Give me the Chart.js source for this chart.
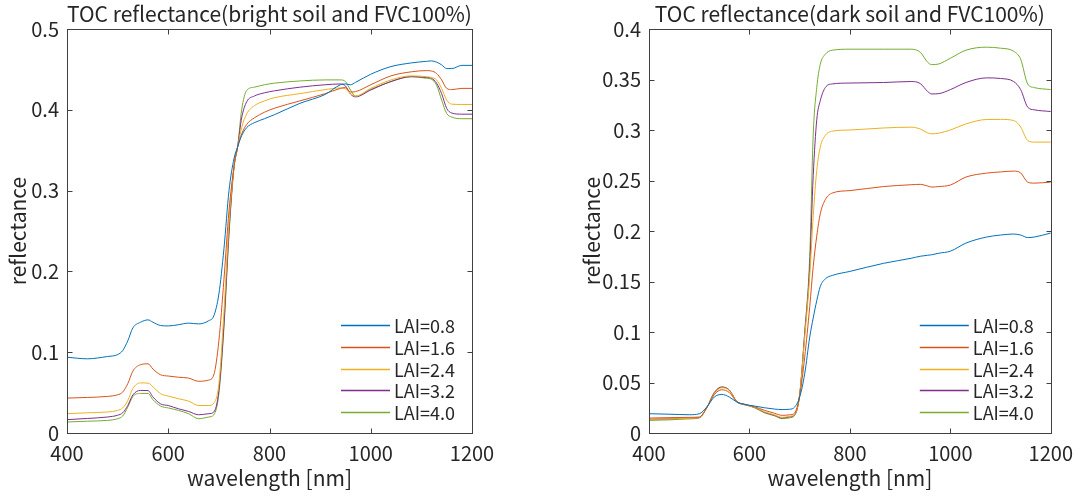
<!DOCTYPE html>
<html>
<head>
<meta charset="utf-8">
<script src="https://cdn.jsdelivr.net/npm/chart.js@4.4.1/dist/chart.umd.min.js"></script>
<style>
  html, body { margin: 0; padding: 0; background: #ffffff; overflow: hidden; }
  .panel { position: absolute; top: 0; height: 497px; }
  #p1 { left: 0; width: 540px; }
  #p2 { left: 540px; width: 541px; }
</style>
</head>
<body>
<div class="panel" id="p1"><canvas id="c1"></canvas></div>
<div class="panel" id="p2"><canvas id="c2"></canvas></div>
<script>
// ---------------- DATA ----------------
const seriesLabels = ['LAI=0.8', 'LAI=1.6', 'LAI=2.4', 'LAI=3.2', 'LAI=4.0'];
const seriesColors = ['#0072BD', '#D95319', '#EDB120', '#7E2F8E', '#77AC30'];

const xTickValues = [400, 600, 800, 1000, 1200];
const yTicksBright = [0, 0.1, 0.2, 0.3, 0.4, 0.5];
const yTicksDark = [0, 0.05, 0.1, 0.15, 0.2, 0.25, 0.3, 0.35, 0.4];

const titleBright = 'TOC reflectance(bright soil and FVC100%)';
const titleDark = 'TOC reflectance(dark soil and FVC100%)';
const xTitle = 'wavelength [nm]';
const yTitle = 'reflectance';

// bright soil
const wlBright = [400, 440, 480, 500, 510, 520, 530, 545, 560, 570, 585, 600, 620, 640, 660, 680, 690, 700, 710, 720, 730, 737, 745, 755, 770, 790, 810, 860, 910, 940, 950, 960, 970, 1000, 1040, 1080, 1110, 1120, 1130, 1140, 1150, 1160, 1180, 1200];
const brightLAI08 = [0.0938, 0.0918, 0.0947, 0.097, 0.102, 0.114, 0.130, 0.137, 0.140, 0.137, 0.133, 0.1325, 0.134, 0.136, 0.135, 0.139, 0.145, 0.172, 0.228, 0.300, 0.340, 0.354, 0.368, 0.378, 0.384, 0.389, 0.394, 0.408, 0.419, 0.431, 0.432, 0.431, 0.434, 0.444, 0.4535, 0.458, 0.460, 0.4605, 0.459, 0.4556, 0.451, 0.451, 0.455, 0.455];
const brightLAI16 = [0.0432, 0.0440, 0.0453, 0.0473, 0.0506, 0.061, 0.0765, 0.0845, 0.0856, 0.079, 0.072, 0.0705, 0.069, 0.068, 0.064, 0.0655, 0.072, 0.114, 0.19, 0.275, 0.330, 0.354, 0.370, 0.382, 0.390, 0.397, 0.402, 0.411, 0.420, 0.4265, 0.4275, 0.422, 0.4225, 0.431, 0.442, 0.447, 0.4485, 0.448, 0.445, 0.437, 0.4265, 0.425, 0.4265, 0.4265];
const brightLAI24 = [0.0239, 0.0250, 0.026, 0.028, 0.031, 0.040, 0.055, 0.062, 0.0617, 0.057, 0.0486, 0.0457, 0.0424, 0.0395, 0.034, 0.034, 0.037, 0.061, 0.15, 0.26, 0.33, 0.354, 0.378, 0.395, 0.405, 0.411, 0.415, 0.420, 0.425, 0.427, 0.426, 0.420, 0.417, 0.4265, 0.437, 0.442, 0.441, 0.440, 0.437, 0.4265, 0.412, 0.407, 0.4066, 0.4066];
const brightLAI32 = [0.0165, 0.018, 0.0198, 0.022, 0.025, 0.034, 0.047, 0.0527, 0.0525, 0.0444, 0.036, 0.034, 0.030, 0.0267, 0.0226, 0.0239, 0.026, 0.053, 0.135, 0.25, 0.33, 0.354, 0.39, 0.410, 0.417, 0.421, 0.4235, 0.428, 0.431, 0.432, 0.4295, 0.4195, 0.416, 0.4245, 0.435, 0.441, 0.440, 0.439, 0.433, 0.420, 0.4017, 0.396, 0.3946, 0.3946];
const brightLAI40 = [0.0136, 0.0146, 0.0156, 0.0177, 0.021, 0.032, 0.045, 0.049, 0.049, 0.041, 0.0333, 0.031, 0.028, 0.0239, 0.0177, 0.0198, 0.0226, 0.0486, 0.13, 0.245, 0.33, 0.354, 0.40, 0.424, 0.428, 0.431, 0.433, 0.4357, 0.437, 0.437, 0.435, 0.4245, 0.417, 0.4253, 0.435, 0.441, 0.439, 0.4377, 0.4307, 0.412, 0.3954, 0.391, 0.389, 0.389];

// dark soil
const wlDark = [400, 440, 480, 500, 515, 530, 545, 560, 575, 590, 610, 630, 650, 665, 680, 690, 700, 710, 720, 727, 734, 741, 751, 765, 800, 867, 922, 940, 955, 963, 977, 1000, 1031, 1072, 1100, 1126, 1140, 1154, 1167, 1200];
const darkLAI08 = [0.0191, 0.0186, 0.0181, 0.019, 0.0257, 0.0356, 0.0382, 0.0356, 0.0306, 0.0283, 0.0267, 0.025, 0.0237, 0.0232, 0.0235, 0.0257, 0.0356, 0.0586, 0.0949, 0.114, 0.131, 0.145, 0.1526, 0.156, 0.160, 0.168, 0.173, 0.175, 0.176, 0.1765, 0.178, 0.180, 0.188, 0.194, 0.196, 0.197, 0.196, 0.1935, 0.194, 0.198];
const darkLAI16 = [0.0148, 0.0152, 0.0155, 0.0158, 0.025, 0.038, 0.0428, 0.040, 0.031, 0.0285, 0.026, 0.0225, 0.0195, 0.0175, 0.018, 0.0198, 0.037, 0.075, 0.125, 0.165, 0.195, 0.217, 0.231, 0.2376, 0.240, 0.244, 0.2458, 0.2462, 0.2445, 0.2435, 0.244, 0.2455, 0.2534, 0.2573, 0.2585, 0.2593, 0.2575, 0.2484, 0.2474, 0.2484];
const darkLAI24 = [0.0135, 0.014, 0.0145, 0.0152, 0.025, 0.039, 0.0448, 0.042, 0.031, 0.028, 0.0255, 0.021, 0.018, 0.0155, 0.0165, 0.0185, 0.038, 0.095, 0.155, 0.215, 0.26, 0.283, 0.2946, 0.2988, 0.300, 0.302, 0.3028, 0.301, 0.297, 0.2962, 0.2969, 0.300, 0.306, 0.3104, 0.3105, 0.3094, 0.303, 0.2896, 0.288, 0.288];
const darkLAI32 = [0.0135, 0.014, 0.0145, 0.0152, 0.025, 0.040, 0.0455, 0.0425, 0.031, 0.028, 0.0255, 0.0205, 0.0175, 0.0148, 0.016, 0.018, 0.038, 0.098, 0.165, 0.255, 0.31, 0.329, 0.342, 0.3456, 0.3465, 0.347, 0.348, 0.346, 0.338, 0.3357, 0.336, 0.340, 0.347, 0.3516, 0.351, 0.348, 0.340, 0.3226, 0.320, 0.3183];
const darkLAI40 = [0.0125, 0.013, 0.014, 0.015, 0.025, 0.040, 0.0455, 0.0425, 0.031, 0.0285, 0.025, 0.020, 0.017, 0.0142, 0.015, 0.0175, 0.038, 0.10, 0.175, 0.296, 0.342, 0.365, 0.375, 0.379, 0.380, 0.380, 0.380, 0.377, 0.367, 0.3647, 0.3654, 0.371, 0.379, 0.382, 0.381, 0.378, 0.370, 0.3456, 0.342, 0.340];

// ---------------- CHART SETUP ----------------
const FONT = '"Noto Sans CJK JP", "Noto Sans", sans-serif';
const TEXT = '#262626';
const AXIS = '#404040';
const TICK_SIZE = 20;
const TITLE_SIZE = 21;
const AXIS_TITLE_SIZE = 21;
const LEGEND_SIZE = 18;
Chart.defaults.font.family = FONT;
Chart.defaults.color = TEXT;

function makeDatasets(wl, arrays) {
  return arrays.map((arr, i) => ({
    label: seriesLabels[i],
    data: wl.map((w, k) => ({ x: w, y: arr[k] })),
    borderColor: seriesColors[i],
    backgroundColor: seriesColors[i],
    borderWidth: 1,
    pointRadius: 0,
    cubicInterpolationMode: 'monotone',
    fill: false
  }));
}

const framePlugin = {
  id: 'frame',
  afterDatasetsDraw(chart, args, opts) {
    const { ctx, chartArea: a, scales } = chart;
    ctx.save();
    ctx.strokeStyle = AXIS;
    ctx.lineWidth = 1;
    const L = Math.round(a.left) + 0.5, R = Math.round(a.right) + 0.5;
    const T = Math.round(a.top) + 0.5, B = Math.round(a.bottom) + 0.5;
    ctx.strokeRect(L, T, R - L, B - T);
    const tl = 5;
    ctx.beginPath();
    scales.x.ticks.forEach(t => {
      const px = Math.round(scales.x.getPixelForValue(t.value)) + 0.5;
      ctx.moveTo(px, B); ctx.lineTo(px, B - tl);
      ctx.moveTo(px, T); ctx.lineTo(px, T + tl);
    });
    scales.y.ticks.forEach(t => {
      const py = Math.round(scales.y.getPixelForValue(t.value)) + 0.5;
      ctx.moveTo(L, py); ctx.lineTo(L + tl, py);
      ctx.moveTo(R, py); ctx.lineTo(R - tl, py);
    });
    ctx.stroke();

    // title centred over the axes
    ctx.fillStyle = TEXT;
    ctx.font = TITLE_SIZE + 'px ' + FONT;
    ctx.textAlign = 'center';
    ctx.textBaseline = 'middle';
    ctx.fillText(opts.title, (a.left + a.right) / 2, 14);

    // legend (no box), lower right inside axes
    ctx.font = LEGEND_SIZE + 'px ' + FONT;
    ctx.textAlign = 'left';
    chart.data.datasets.forEach((ds, i) => {
      const y = Math.round(a.bottom - 108 + i * 21.8) + 0.5;
      ctx.beginPath();
      ctx.strokeStyle = seriesColors[i];
      ctx.lineWidth = 1.5;
      ctx.moveTo(a.right - 131, y);
      ctx.lineTo(a.right - 82, y);
      ctx.stroke();
      ctx.fillStyle = TEXT;
      ctx.fillText(ds.label, a.right - 78, y + 1);
    });
    ctx.restore();
  }
};

function makeChart(id, wl, arrays, yTicks, yMax, title, yAxisWidth, padRight, yTitlePad) {
  return new Chart(document.getElementById(id), {
    type: 'line',
    data: { datasets: makeDatasets(wl, arrays) },
    plugins: [framePlugin],
    options: {
      responsive: true,
      maintainAspectRatio: false,
      animation: false,
      layout: { padding: { left: 0, right: padRight, top: 29, bottom: 0 } },
      plugins: {
        legend: { display: false },
        tooltip: { enabled: false },
        frame: { title: title }
      },
      scales: {
        x: {
          type: 'linear',
          min: xTickValues[0],
          max: xTickValues[xTickValues.length - 1],
          afterBuildTicks: s => { s.ticks = xTickValues.map(v => ({ value: v })); },
          afterFit: s => { s.height = 64; },
          grid: { display: false, drawTicks: false },
          border: { display: false },
          ticks: { font: { size: TICK_SIZE }, color: TEXT, padding: 8, maxRotation: 0, callback: v => String(v) },
          title: { display: true, text: xTitle, font: { size: AXIS_TITLE_SIZE }, color: TEXT, padding: { top: 0, bottom: 6 } }
        },
        y: {
          type: 'linear',
          min: 0,
          max: yMax,
          afterBuildTicks: s => { s.ticks = yTicks.map(v => ({ value: v })); },
          afterFit: s => { s.width = yAxisWidth; },
          grid: { display: false, drawTicks: false },
          border: { display: false },
          ticks: { font: { size: TICK_SIZE }, color: TEXT, padding: 8, callback: v => String(v) },
          title: { display: true, text: yTitle, font: { size: AXIS_TITLE_SIZE }, color: TEXT, padding: { top: yTitlePad, bottom: 0 } }
        }
      }
    }
  });
}

makeChart('c1', wlBright, [brightLAI08, brightLAI16, brightLAI24, brightLAI32, brightLAI40],
  yTicksBright, 0.5, titleBright, 67, 68, 5);
makeChart('c2', wlDark, [darkLAI08, darkLAI16, darkLAI24, darkLAI32, darkLAI40],
  yTicksDark, 0.4, titleDark, 109, 28, 39);
</script>
</body>
</html>
